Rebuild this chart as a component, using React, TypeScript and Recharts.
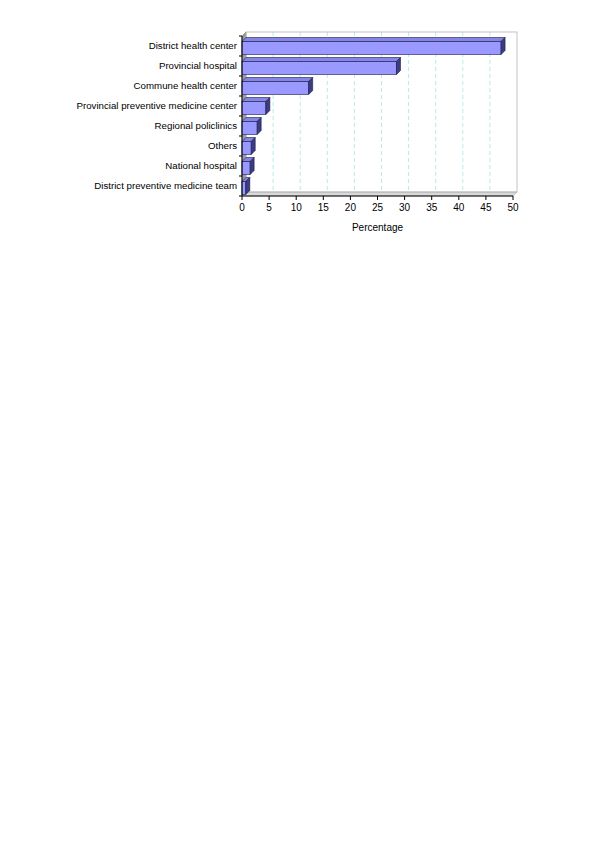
import { BarChart, Bar, XAxis, YAxis, CartesianGrid, ReferenceArea } from 'recharts';

const categories = [
  'District health center',
  'Provincial hospital',
  'Commune health center',
  'Provincial preventive medicine center',
  'Regional policlinics',
  'Others',
  'National hospital',
  'District preventive medicine team',
];

const percentages = [47.8, 28.5, 12.3, 4.4, 2.8, 1.7, 1.5, 0.7];

const xTicks = [0, 5, 10, 15, 20, 25, 30, 35, 40, 45, 50];

const data = categories.map((name, i) => ({ name, value: percentages[i] }));

const DEPTH = 4;

// bar drawn as a small 3D box: front face, top face and right side
function Bar3D(props: any) {
  const { x, y, width, height } = props;
  if (width == null || height == null) return null;
  const d = DEPTH;
  const fy = y + 1.5;
  const top = `M${x},${fy} L${x + d},${fy - d} L${x + width + d},${fy - d} L${x + width},${fy} Z`;
  const side = `M${x + width},${fy} L${x + width + d},${fy - d} L${x + width + d},${fy + height - d} L${x + width},${fy + height} Z`;
  return (
    <g stroke="#1a1a4d" strokeWidth={0.6}>
      <rect x={x} y={fy} width={width} height={height} fill="#9999ff" />
      <path d={top} fill="#8585e6" />
      <path d={side} fill="#3c3c80" />
    </g>
  );
}

// back wall, floor, left wall and category tick marks
function Walls(props: any) {
  const { x, y, width, height } = props;
  const d = DEPTH;
  const n = categories.length;
  const bottom = y + height;
  return (
    <g>
      <path
        d={`M${x},${bottom} L${x + d},${bottom - d} L${x + width + d},${bottom - d} L${x + width},${bottom} Z`}
        fill="#d9d9d9"
        stroke="#a6a6a6"
        strokeWidth={0.6}
      />
      <path
        d={`M${x},${bottom} L${x + d},${bottom - d} L${x + d},${y - d} L${x},${y} Z`}
        fill="#9a9a9a"
        stroke="#808080"
        strokeWidth={0.6}
      />
      <rect x={x + d} y={y - d} width={width} height={height} fill="none" stroke="#b3b3b3" strokeWidth={0.8} />
      {Array.from({ length: n + 1 }, (_, i) => {
        const ty = y + (i * height) / n;
        return <line key={i} x1={x - 3} y1={ty} x2={x} y2={ty} stroke="#000" strokeWidth={1} />;
      })}
    </g>
  );
}

function GridLine(props: any) {
  const { x1, y1, x2, y2, index } = props;
  if (index === 0 || index === xTicks.length - 1) return <g key={props.key} />;
  return (
    <line
      key={props.key}
      x1={x1 + DEPTH}
      y1={y1 - DEPTH}
      x2={x2 + DEPTH}
      y2={y2 - DEPTH}
      stroke="#b8eaea"
      strokeWidth={1}
      strokeDasharray="4 3"
    />
  );
}

function CategoryTick(props: any) {
  const { x, y, payload } = props;
  return (
    <text x={x} y={y} dy="0.355em" textAnchor="end" fill="#000" fontSize={9.7}>
      {payload.value}
    </text>
  );
}

export default function App() {
  return (
    <div style={{ position: 'absolute', left: 0, top: 0, fontFamily: '"Liberation Sans", Arial, sans-serif' }}>
      <BarChart
        width={600}
        height={250}
        data={data}
        layout="vertical"
        margin={{ top: 36, right: 87, bottom: 0, left: 0 }}
        barSize={13}
      >
        <CartesianGrid horizontal={false} vertical={GridLine} />
        <ReferenceArea x1={0} x2={50} shape={Walls} ifOverflow="visible" />
        <XAxis
          type="number"
          domain={[0, 50]}
          ticks={xTicks}
          interval={0}
          height={54}
          stroke="#000"
          tickSize={4}
          tickMargin={4}
          tick={{ fill: '#000', fontSize: 10 }}
          label={{ value: 'Percentage', position: 'insideBottom', offset: 19, fill: '#000', fontSize: 10 }}
        />
        <YAxis
          type="category"
          dataKey="name"
          width={242}
          stroke="#000"
          tickLine={false}
          tickSize={3}
          tickMargin={2}
          interval={0}
          tick={CategoryTick}
        />
        <Bar dataKey="value" shape={Bar3D} isAnimationActive={false} />
      </BarChart>
    </div>
  );
}
